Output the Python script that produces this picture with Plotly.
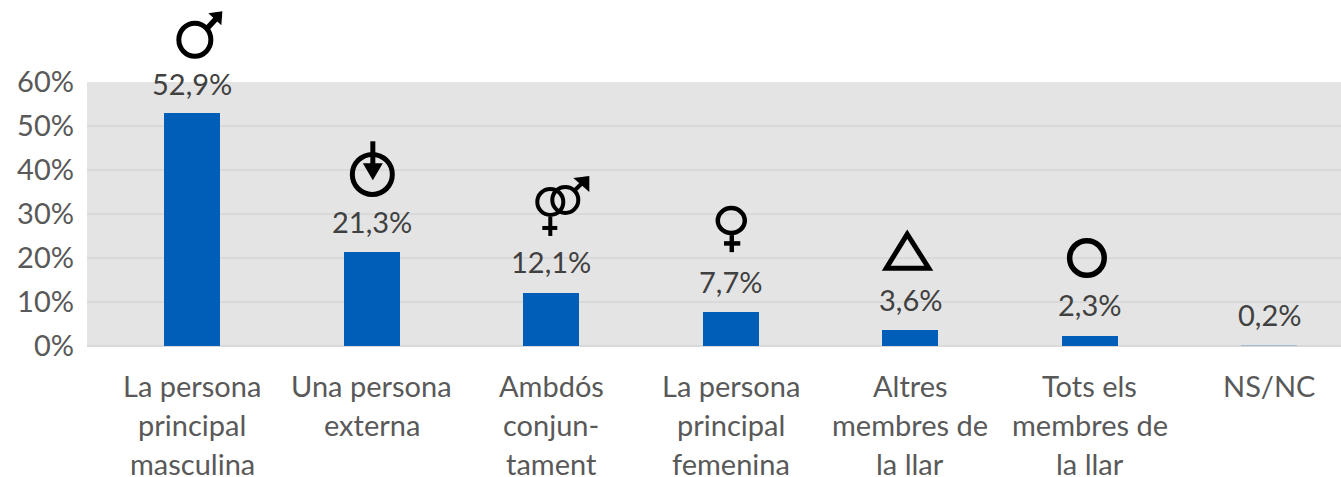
import plotly.graph_objects as go

categories = ["La persona principal masculina", "Una persona externa", "Ambdós conjun-tament",
              "La persona principal femenina", "Altres membres de la llar", "Tots els membres de la llar", "NS/NC"]
category_lines = [["La persona", "principal", "masculina"], ["Una persona", "externa"], ["Ambdós", "conjun-", "tament"],
                  ["La persona", "principal", "femenina"], ["Altres", "membres de", "la llar"],
                  ["Tots els", "membres de", "la llar"], ["NS/NC"]]
values = [52.9, 21.3, 12.1, 7.7, 3.6, 2.3, 0.2]
value_labels = ["52,9%", "21,3%", "12,1%", "7,7%", "3,6%", "2,3%", "0,2%"]
tick_vals = [0, 10, 20, 30, 40, 50, 60]
tick_text = ["0%", "10%", "20%", "30%", "40%", "50%", "60%"]
y_max = 60

FONT = "Lato"
shapes = []


def anchored(i, **kw):
    # Anchored on the bar's top; the paper reference lets a symbol stand above the plot area.
    return dict(xref="x", yref="paper", xsizemode="pixel", ysizemode="pixel",
                xanchor=categories[i], yanchor=values[i] / y_max, layer="above", **kw)


def ring(i, cx, cy, rx, ry, w):
    shapes.append(anchored(i, type="circle", x0=cx - rx, x1=cx + rx, y0=cy - ry, y1=cy + ry,
                           line=dict(color="black", width=w)))


def stroke(i, x0, y0, x1, y1, w):
    shapes.append(anchored(i, type="line", x0=x0, x1=x1, y0=y0, y1=y1, line=dict(color="black", width=w)))


def poly(i, pts, w=0, fill="black"):
    path = "M" + " L".join(f"{x},{y}" for x, y in pts) + " Z"
    shapes.append(anchored(i, type="path", path=path, fillcolor=fill,
                           line=dict(color="black", width=w)))


# masculine sign
ring(0, 2.5, 73.5, 16, 16.5, 5)
stroke(0, 15, 85, 28, 99, 5.5)
poly(0, [(16, 100), (30, 102), (29, 88)])
# circle with arrow
ring(1, 0.5, 77.8, 20, 20, 5)
stroke(1, 1, 111, 1, 85, 5)
poly(1, [(-9, 89), (11, 89), (1, 72)])
# both signs
ring(2, -1, 90.8, 13, 13, 4)
ring(2, 14, 92.8, 13, 13, 4)
stroke(2, 24, 103, 36, 114.8, 4)
poly(2, [(22, 114.8), (38, 116.8), (38, 100.8)])
stroke(2, -1, 75.8, -1, 56.8, 4)
stroke(2, -9, 64.8, 6, 64.8, 4)
# feminine sign
ring(3, 0.5, 91.5, 13.5, 12.5, 4.5)
stroke(3, 1, 77, 1, 60, 4.5)
stroke(3, -6.8, 68.7, 9.5, 68.7, 4.5)
# triangle
poly(4, [(-3, 96), (-24, 62), (18.5, 62)], w=5, fill="rgba(0,0,0,0)")
# circle
ring(5, -2.8, 77.9, 17.3, 17.3, 5.5)

fig = go.Figure(go.Bar(x=categories, y=values, width=0.312,
                       marker=dict(color="#005EB8", line=dict(width=0), opacity=[1, 1, 1, 1, 1, 1, 0.25]),
                       cliponaxis=False))
ann = []
for i, c in enumerate(categories):
    ann.append(dict(x=c, y=values[i], yref="y", text=value_labels[i], showarrow=False,
                    yshift=30 if i == 0 else 31, font=dict(family=FONT, size=29, color="#404040")))
    for j, line in enumerate(category_lines[i]):
        ann.append(dict(x=c, y=0, yref="paper", text=line, showarrow=False, yanchor="middle",
                        yshift=-39 - 39 * j, font=dict(family=FONT, size=29, color="#595959")))
fig.update_layout(
    width=1341, height=477, margin=dict(l=87, r=0, t=82, b=131), showlegend=False,
    paper_bgcolor="#ffffff", plot_bgcolor="#E4E4E4", annotations=ann, shapes=shapes, bargap=0,
    font=dict(family=FONT, color="#595959"),
    xaxis=dict(type="category", range=[-0.587, 6.4], showticklabels=False, ticks="", showgrid=False,
               showline=False, zeroline=False, categoryorder="array", categoryarray=categories),
    yaxis=dict(range=[0, y_max], tickvals=tick_vals, ticktext=tick_text, ticks="", gridcolor="#D9D9D9", gridwidth=2,
               zeroline=True, zerolinecolor="#D9D9D9", zerolinewidth=2, showline=False,
               tickfont=dict(family=FONT, size=29, color="#595959"), ticklabelstandoff=12),
)
fig.write_html("out.html", config={"displayModeBar": False}, post_script="document.body.style.margin='0';")
